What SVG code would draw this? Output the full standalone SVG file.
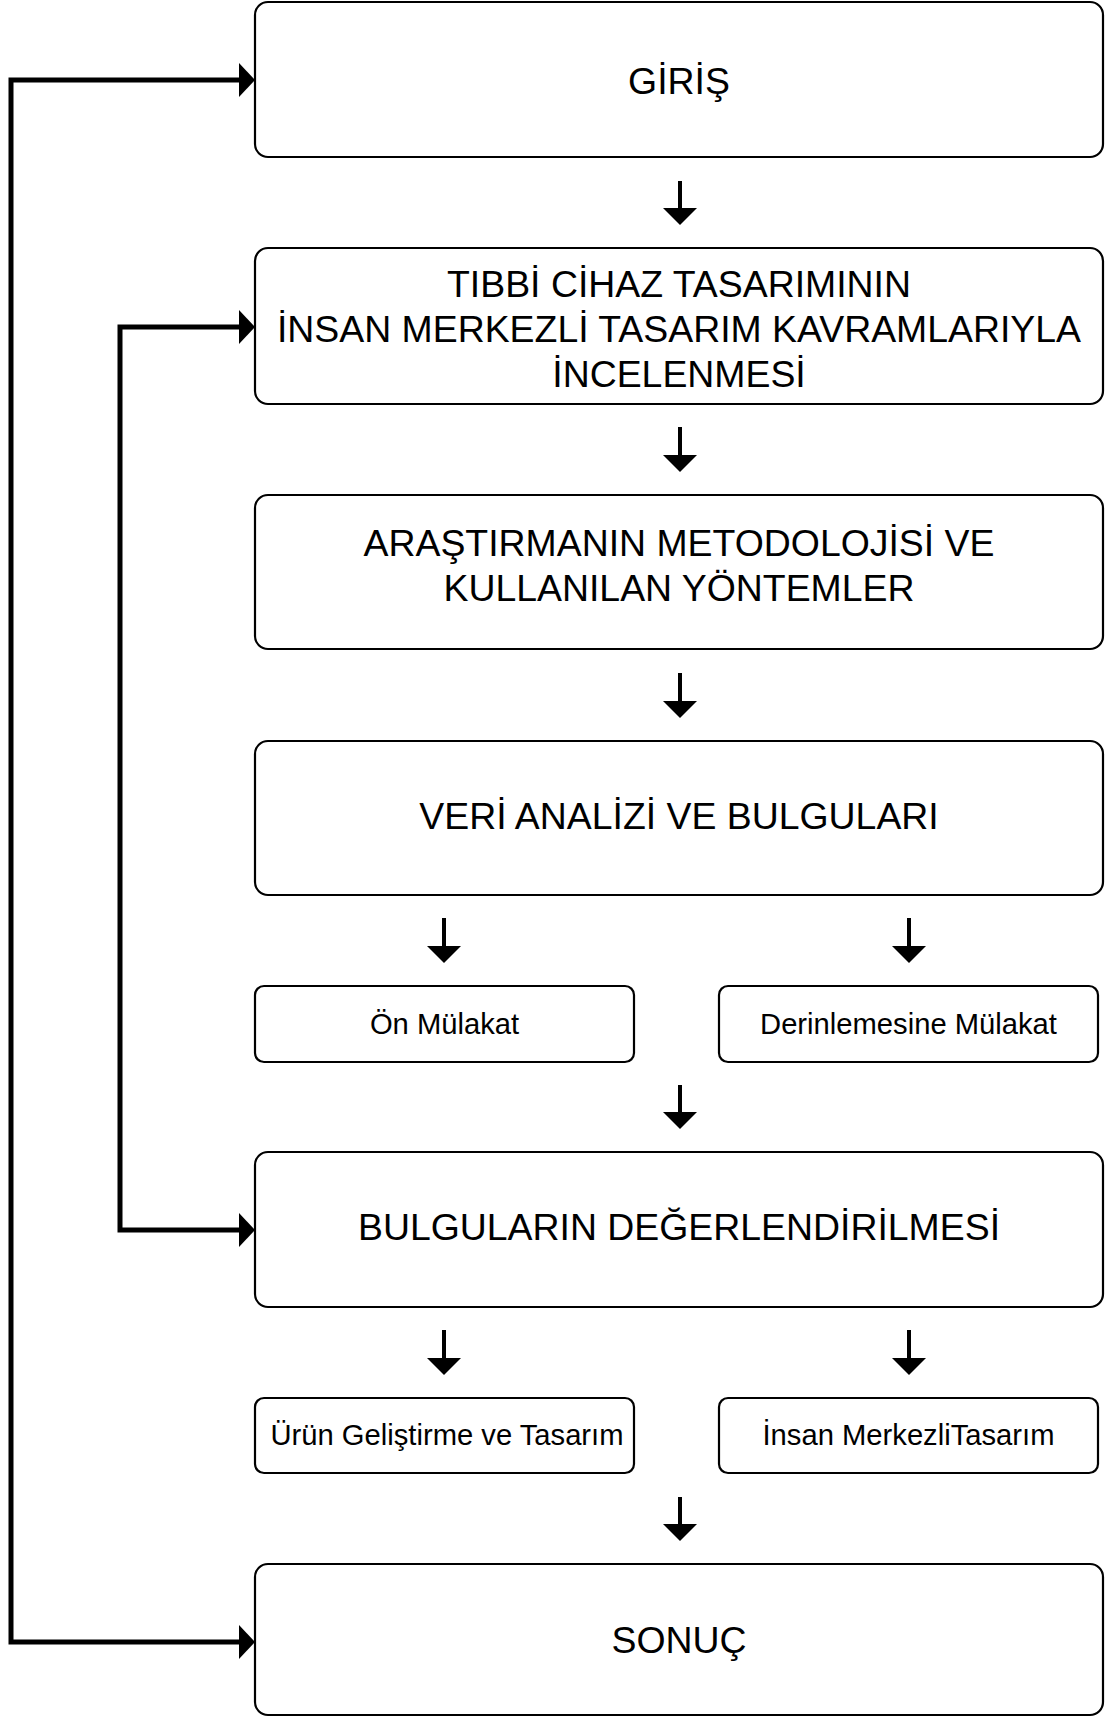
<svg xmlns="http://www.w3.org/2000/svg" width="1105" height="1717" viewBox="0 0 1105 1717">
  <style>
    .box { fill: #ffffff; stroke: #000000; stroke-width: 2.2; }
    .big { font-family: "Liberation Sans", Arial, sans-serif; font-size: 37.4px; fill: #000000; text-anchor: middle; }
    .small { font-family: "Liberation Sans", Arial, sans-serif; font-size: 29.2px; fill: #000000; text-anchor: middle; }
    .down { stroke: #000000; stroke-width: 4; fill: none; }
    .loop { stroke: #000000; stroke-width: 5; fill: none; stroke-linejoin: miter; }
  </style>
  <defs>
    <marker id="headDown" markerUnits="userSpaceOnUse" markerWidth="17" markerHeight="34" refX="0" refY="17" orient="auto" overflow="visible">
      <path d="M0,0 L17,17 L0,34 Z" fill="#000000"/>
    </marker>
    <marker id="headLoop" markerUnits="userSpaceOnUse" markerWidth="16" markerHeight="34" refX="0" refY="17" orient="auto-start-reverse" overflow="visible">
      <path d="M0,0 L16,17 L0,34 Z" fill="#000000"/>
    </marker>
  </defs>

  <rect width="1105" height="1717" fill="#ffffff"/>

  <!-- connectors -->
  <g id="connectors">
    <!-- feedback loops on the left -->
    <path class="loop" d="M239,80 H11 V1642 H239" marker-start="url(#headLoop)" marker-end="url(#headLoop)"/>
    <path class="loop" d="M239,327 H120 V1230 H239" marker-start="url(#headLoop)" marker-end="url(#headLoop)"/>
    <!-- downward step arrows -->
    <line class="down" x1="680" y1="181" x2="680" y2="208" marker-end="url(#headDown)"/>
    <line class="down" x1="680" y1="427" x2="680" y2="455" marker-end="url(#headDown)"/>
    <line class="down" x1="680" y1="673" x2="680" y2="701" marker-end="url(#headDown)"/>
    <line class="down" x1="444" y1="918" x2="444" y2="946" marker-end="url(#headDown)"/>
    <line class="down" x1="909" y1="918" x2="909" y2="946" marker-end="url(#headDown)"/>
    <line class="down" x1="680" y1="1085" x2="680" y2="1112" marker-end="url(#headDown)"/>
    <line class="down" x1="444" y1="1330" x2="444" y2="1358" marker-end="url(#headDown)"/>
    <line class="down" x1="909" y1="1330" x2="909" y2="1358" marker-end="url(#headDown)"/>
    <line class="down" x1="680" y1="1497" x2="680" y2="1524" marker-end="url(#headDown)"/>
  </g>

  <g id="giris">
    <rect class="box" x="255" y="2" width="848" height="155" rx="13"/>
    <text class="big" x="679" y="94">GİRİŞ</text>
  </g>

  <g id="tibbi-cihaz">
    <rect class="box" x="255" y="248" width="848" height="156" rx="13"/>
    <text class="big" x="679" y="297">TIBBİ CİHAZ TASARIMININ</text>
    <text class="big" x="679" y="342">İNSAN MERKEZLİ TASARIM KAVRAMLARIYLA</text>
    <text class="big" x="679" y="387">İNCELENMESİ</text>
  </g>

  <g id="metodoloji">
    <rect class="box" x="255" y="495" width="848" height="154" rx="13"/>
    <text class="big" x="679" y="556">ARAŞTIRMANIN METODOLOJİSİ VE</text>
    <text class="big" x="679" y="601">KULLANILAN YÖNTEMLER</text>
  </g>

  <g id="veri-analizi">
    <rect class="box" x="255" y="741" width="848" height="154" rx="13"/>
    <text class="big" x="679" y="829">VERİ ANALİZİ VE BULGULARI</text>
  </g>

  <g id="on-mulakat">
    <rect class="box" x="255" y="986" width="379" height="76" rx="9"/>
    <text class="small" x="444.5" y="1034">Ön Mülakat</text>
  </g>

  <g id="derinlemesine-mulakat">
    <rect class="box" x="719" y="986" width="379" height="76" rx="9"/>
    <text class="small" x="908.5" y="1034">Derinlemesine Mülakat</text>
  </g>

  <g id="bulgularin-degerlendirilmesi">
    <rect class="box" x="255" y="1152" width="848" height="155" rx="13"/>
    <text class="big" x="679" y="1240">BULGULARIN DEĞERLENDİRİLMESİ</text>
  </g>

  <g id="urun-gelistirme">
    <rect class="box" x="255" y="1398" width="379" height="75" rx="9"/>
    <text class="small" x="447" y="1445">Ürün Geliştirme ve Tasarım</text>
  </g>

  <g id="insan-merkezli">
    <rect class="box" x="719" y="1398" width="379" height="75" rx="9"/>
    <text class="small" x="908.5" y="1445">İnsan MerkezliTasarım</text>
  </g>

  <g id="sonuc">
    <rect class="box" x="255" y="1564" width="848" height="151" rx="13"/>
    <text class="big" x="679" y="1653">SONUÇ</text>
  </g>
</svg>
